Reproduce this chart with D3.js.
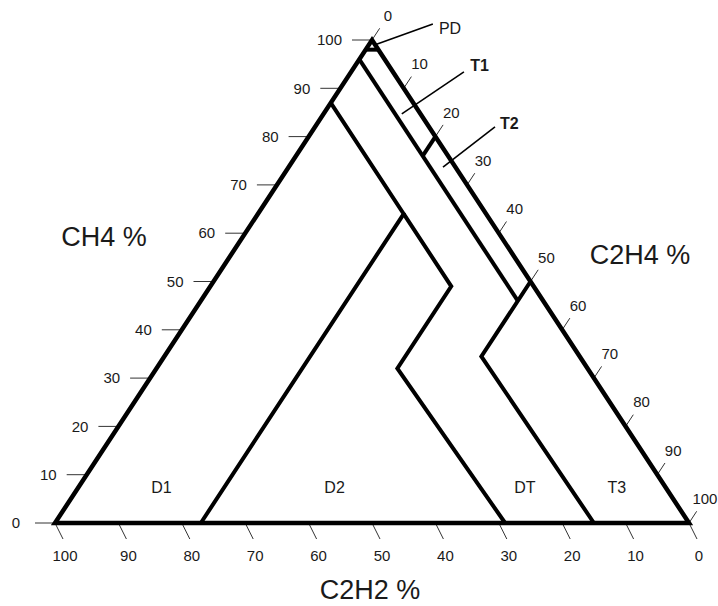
<!DOCTYPE html>
<html>
<head>
<meta charset="utf-8">
<script src="https://cdn.jsdelivr.net/npm/d3@7"></script>
<style>
  body { margin: 0; background: #fff; }
  text { font-family: "Liberation Sans", Arial, sans-serif; fill: #1a1a1a; }
</style>
</head>
<body>
<div id="output"></div>
<script>
// ternary points are [CH4, C2H4, C2H2] in %
var ticks = [0, 10, 20, 30, 40, 50, 60, 70, 80, 90, 100];

var outline = [[100, 0, 0], [0, 100, 0], [0, 0, 100]];

// zone boundaries as drawn (Duval triangle 1)
var pdLine = [[98, 0, 2], [98, 2, 0]];
var c2h2Line4 = [[96, 0, 4], [46, 50, 4]];
var t1t2Line = [[76, 20, 4], [80, 20, 0]];
var t3Line = [[50, 50, 0], [34.5, 50, 15.5], [0, 85, 15]];
var d1Line = [[87, 0, 13], [64, 23, 13], [0, 23, 77]];
var d2Line = [[64, 23, 13], [49, 38, 13], [32, 38, 30], [0, 71, 29]];

var zoneNames = ['D1', 'D2', 'DT', 'T3'];
var zoneSpots = [[7.4, 13.1], [7.4, 40.4], [7.4, 70.4], [7.4, 84.9]];

// callouts: inner point, outer point, text spot, name ([CH4, C2H4])
var calloutNames = ['PD', 'T1', 'T2'];
var calloutInner = [[99.0, 1.0], [84.7, 12.35], [73.7, 24.35]];
var calloutOuter = [[103.3, 7.95], [93.4, 17.8], [82.0, 28.4]];
var calloutText = [[102.3, 9.4], [94.8, 18.1], [82.8, 28.8]];

var svg = d3.select("#output").append("svg")
  .attr("width", 718)
  .attr("height", 606);

var x = d3.scaleLinear().domain([0, 100]).range([55, 689]);
var y = d3.scaleLinear().domain([0, 100]).range([523, 40]);

function px(p) {
  // p = [ch4, c2h4, ...]
  return [x(p[1] + p[0] / 2), y(p[0])];
}

var line = d3.line().x(function (p) { return px(p)[0]; }).y(function (p) { return px(p)[1]; });

// left edge direction (up-right)
var lx = x(50) - x(0), ly = y(100) - y(0);
var len = Math.sqrt(lx * lx + ly * ly);
var up = [lx / len, ly / len];

// ticks on CH4 side (horizontal, to the left)
ticks.forEach(function (v) {
  var p = px([v, 0, 100 - v]);
  svg.append("line")
    .attr("x1", p[0] - 20).attr("y1", p[1])
    .attr("x2", p[0]).attr("y2", p[1])
    .style("stroke", "#333").style("stroke-width", 1);
  svg.append("text")
    .text(v)
    .attr("x", v === 0 ? p[0] - 35 : p[0] - 30)
    .attr("y", p[1])
    .attr("dy", "0.35em")
    .attr("text-anchor", "end")
    .style("font-size", "15px");
});

// ticks on C2H4 side (parallel to left edge, outward)
ticks.forEach(function (v) {
  var p = px([100 - v, v, 0]);
  svg.append("line")
    .attr("x1", p[0]).attr("y1", p[1])
    .attr("x2", p[0] + up[0] * 14).attr("y2", p[1] + up[1] * 14)
    .style("stroke", "#333").style("stroke-width", 1);
  svg.append("text")
    .text(v)
    .attr("x", p[0] + up[0] * 29)
    .attr("y", p[1] + up[1] * 29)
    .attr("dy", "0.35em")
    .attr("text-anchor", "middle")
    .style("font-size", "15px");
});

// ticks on C2H2 side (downwards, slanted)
ticks.forEach(function (v) {
  var p = px([0, 100 - v, v]);
  svg.append("line")
    .attr("x1", p[0]).attr("y1", p[1])
    .attr("x2", p[0] + 8).attr("y2", p[1] + 16)
    .style("stroke", "#333").style("stroke-width", 1);
  svg.append("text")
    .text(v)
    .attr("x", p[0] + 10)
    .attr("y", p[1] + 33)
    .attr("dy", "0.35em")
    .attr("text-anchor", "middle")
    .style("font-size", "15px");
});

// zone boundaries
[pdLine, c2h2Line4, t1t2Line, t3Line, d1Line, d2Line].forEach(function (pts) {
  svg.append("path")
    .attr("d", line(pts))
    .style("fill", "none")
    .style("stroke", "#000")
    .style("stroke-width", 4)
    .style("stroke-linejoin", "miter");
});

// triangle outline
svg.append("path")
  .attr("d", line(outline) + "Z")
  .style("fill", "none")
  .style("stroke", "#000")
  .style("stroke-width", 4.5)
  .style("stroke-linejoin", "miter");

// zone labels
zoneNames.forEach(function (name, i) {
  var p = px(zoneSpots[i]);
  svg.append("text")
    .text(name)
    .attr("x", p[0]).attr("y", p[1])
    .attr("dy", "0.35em")
    .attr("text-anchor", "middle")
    .style("font-size", "16px");
});

// callouts
calloutNames.forEach(function (name, i) {
  var a = px(calloutInner[i]), b = px(calloutOuter[i]), t = px(calloutText[i]);
  svg.append("line")
    .attr("x1", a[0]).attr("y1", a[1])
    .attr("x2", b[0]).attr("y2", b[1])
    .style("stroke", "#000").style("stroke-width", 1.6);
  svg.append("text")
    .text(name)
    .attr("x", t[0]).attr("y", t[1])
    .attr("dy", "0.35em")
    .style("font-size", "16px")
    .style("font-weight", name === 'PD' ? "normal" : "bold");
});

// axis titles
svg.append("text").text("CH4 %")
  .attr("x", 104).attr("y", 237).attr("dy", "0.35em")
  .attr("text-anchor", "middle").style("font-size", "27px");
svg.append("text").text("C2H4 %")
  .attr("x", 640).attr("y", 255).attr("dy", "0.35em")
  .attr("text-anchor", "middle").style("font-size", "27px");
svg.append("text").text("C2H2 %")
  .attr("x", 370).attr("y", 590).attr("dy", "0.35em")
  .attr("text-anchor", "middle").style("font-size", "27px");
</script>
</body>
</html>
